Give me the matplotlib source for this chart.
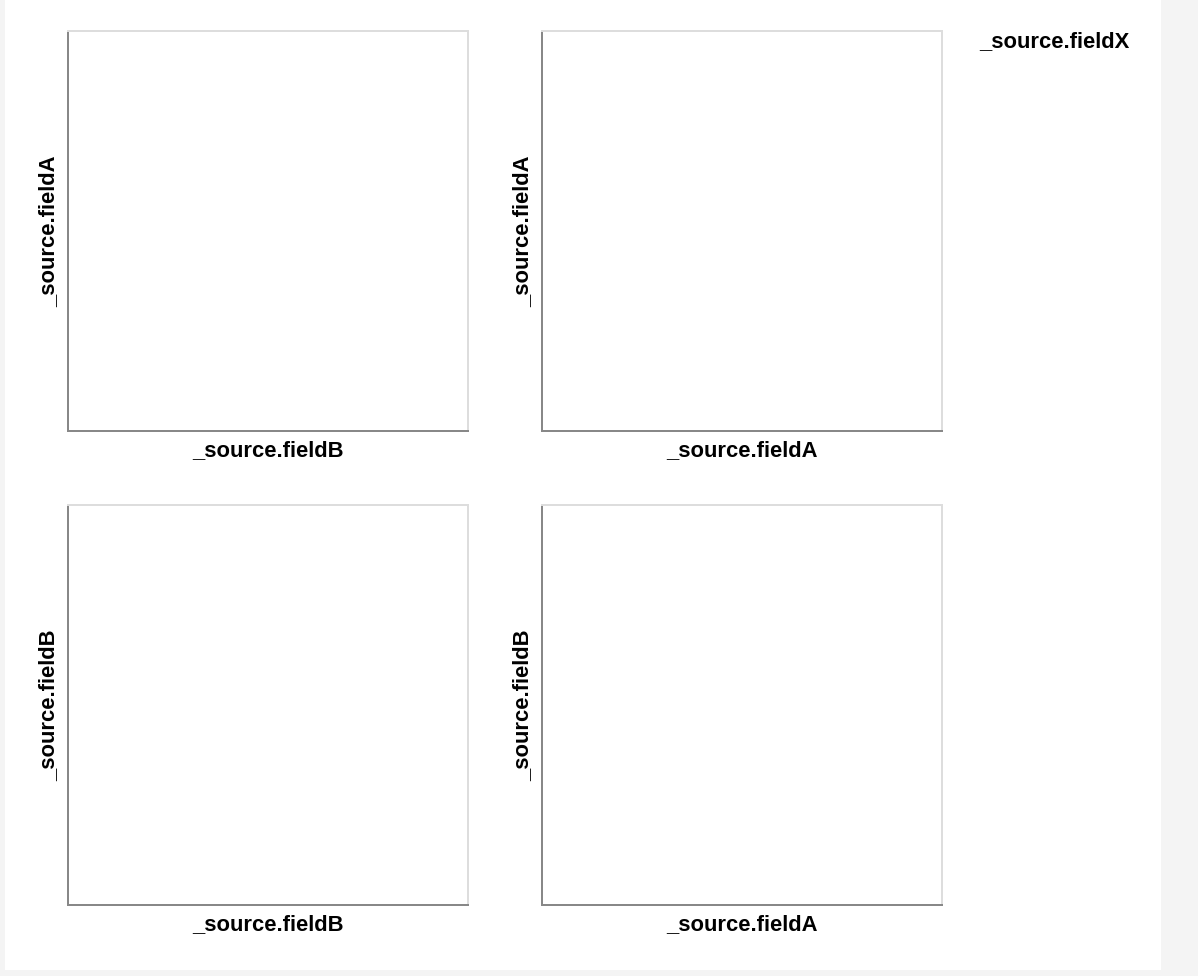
import matplotlib.pyplot as plt
from matplotlib.patches import Rectangle

# fields for the repeated scatter matrix (no records came back)
row_fields = ["_source.fieldA", "_source.fieldB"]
col_fields = ["_source.fieldB", "_source.fieldA"]
color_field = "_source.fieldX"
records = {"_source.fieldA": [], "_source.fieldB": [], "_source.fieldX": []}

W, H = 1198, 976
fig = plt.figure(figsize=(W / 100, H / 100), dpi=100, facecolor="#f4f4f4")
plt.rcParams["font.family"] = ["Liberation Sans", "DejaVu Sans"]

# white chart panel, behind the axes
fig.patches.append(Rectangle((5 / W, 6 / H), 1156 / W, 970 / H, transform=fig.transFigure,
                             facecolor="white", edgecolor="none", zorder=-10))

lefts = [68, 542]
tops = [31, 505]
size = 400
fs = 22 * 72 / 100  # 22px bold

for i, yf in enumerate(row_fields):
    for j, xf in enumerate(col_fields):
        ax = fig.add_axes([lefts[j] / W, (H - tops[i] - size) / H, size / W, size / H])
        ax.scatter(records[xf], records[yf], s=30)
        ax.set_xticks([])
        ax.set_yticks([])
        for side in ["top", "right"]:
            ax.spines[side].set_color("#dddddd")
            ax.spines[side].set_linewidth(1.44)
        for side in ["left", "bottom"]:
            ax.spines[side].set_color("#888888")
            ax.spines[side].set_linewidth(1.44)
        ax.text(0.5, -20 / size, xf, transform=ax.transAxes, ha="center", va="center",
                fontsize=fs, fontweight="bold")
        ax.text(-19 / size, 0.5, yf, transform=ax.transAxes, ha="center", va="center",
                rotation=90, fontsize=fs, fontweight="bold")

# legend title (legend has no entries)
fig.text(979 / W, 1 - 42 / H, color_field, ha="left", va="center",
         fontsize=fs, fontweight="bold")

fig.savefig("out.png", dpi=100, facecolor=fig.get_facecolor())
